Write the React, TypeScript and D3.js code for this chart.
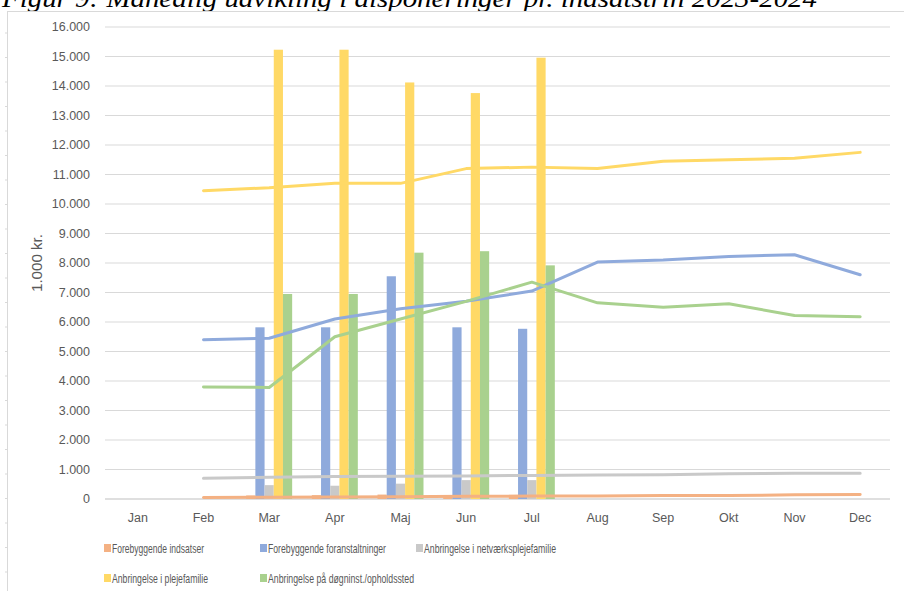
import React from "react";
import * as d3 from "d3";

const months = ["Jan", "Feb", "Mar", "Apr", "Maj", "Jun", "Jul", "Aug", "Sep", "Okt", "Nov", "Dec"];
const seriesNames = [
  "Forebyggende indsatser",
  "Forebyggende foranstaltninger",
  "Anbringelse i netværksplejefamilie",
  "Anbringelse i plejefamilie",
  "Anbringelse på døgninst./opholdssted",
];
const seriesColors = ["#F4B183", "#8FAADC", "#C9C9C9", "#FFD966", "#A9D18E"];

// Line series (Jan missing)
const lineIndsatser = [null, 50, 60, 70, 80, 90, 100, 100, 120, 120, 140, 150];
const lineForanstaltninger = [null, 5400, 5450, 6100, 6450, 6700, 7050, 8030, 8100, 8220, 8280, 7600];
const lineNetvaerk = [null, 700, 740, 760, 770, 780, 800, 810, 820, 860, 870, 870];
const linePlejefamilie = [null, 10450, 10550, 10700, 10700, 11200, 11250, 11200, 11450, 11500, 11550, 11750];
const lineDoegninst = [null, 3800, 3780, 5500, 6100, 6700, 7350, 6650, 6500, 6620, 6220, 6180];

// Bar series (Mar–Jul)
const barMonths = ["Mar", "Apr", "Maj", "Jun", "Jul"];
const barIndsatser = [120, 130, 150, 130, 140];
const barForanstaltninger = [5820, 5820, 7550, 5820, 5770];
const barNetvaerk = [470, 450, 520, 640, 640];
const barPlejefamilie = [15230, 15230, 14120, 13760, 14960];
const barDoegninst = [6950, 6950, 8350, 8400, 7920];

const yTicks = d3.range(0, 16001, 1000);

const lineSeries = [lineIndsatser, lineForanstaltninger, lineNetvaerk, linePlejefamilie, lineDoegninst];
const barSeries = [barIndsatser, barForanstaltninger, barNetvaerk, barPlejefamilie, barDoegninst];

const fmt = (v: number) => (v === 0 ? "0" : d3.format(",")(v).replace(/,/g, "."));

export default function App() {
  const W = 904, H = 591;
  const left = 105, right = 893, top = 27, bottom = 499;
  const x = d3.scaleBand<string>().domain(months).range([left, right]).padding(0);
  const y = d3.scaleLinear().domain([0, 16000]).range([bottom, top]);
  const bw = x.bandwidth();
  const x1 = d3.scaleBand<string>().domain(seriesNames).range([0, bw]).paddingInner(0).paddingOuter(1.07);
  const line = d3
    .line<number | null>()
    .defined((d) => d != null)
    .x((_, i) => (x(months[i]) as number) + bw / 2)
    .y((d) => y(d as number));
  const textColor = "#595959";
  const font = "'Liberation Sans', Arial, sans-serif";
  const narrow = "'Liberation Sans Narrow', 'Liberation Sans', Arial, sans-serif";

  const legendItems = [
    { i: 0, lx: 104, ly: 548, tl: 92 },
    { i: 1, lx: 260, ly: 548, tl: 118 },
    { i: 2, lx: 416, ly: 548, tl: 132 },
    { i: 3, lx: 104, ly: 578, tl: 96 },
    { i: 4, lx: 260, ly: 578, tl: 146 },
  ];

  return (
    <svg width={W} height={H} style={{ position: "absolute", left: 0, top: 0, background: "#fff" }}>
      <text
        x={2}
        y={7}
        fontFamily="'Liberation Serif', 'Times New Roman', serif"
        fontStyle="italic"
        fontSize={26}
        textLength={815}
        lengthAdjust="spacingAndGlyphs"
        fill="#000"
      >
        Figur 9: Månedlig udvikling i disponeringer pr. indsatstrin 2023-2024
      </text>
      {/* frame */}
      <line x1={7} x2={W} y1={11.5} y2={11.5} stroke="#d9d9d9" />
      <line x1={7.5} x2={7.5} y1={11} y2={H} stroke="#d9d9d9" />
      {d3.range(33, H, 24.5).map((t, k) => (
        <line key={k} x1={5} x2={7} y1={t} y2={t} stroke="#d9d9d9" />
      ))}
      {/* grid */}
      {yTicks.map((t) => (
        <g key={t}>
          <line x1={left} x2={right - 3} y1={y(t)} y2={y(t)} stroke={t === 0 ? "#bfbfbf" : "#d9d9d9"} strokeWidth={1} />
          <text x={90} y={y(t)} dy="0.35em" textAnchor="end" fontFamily={font} fontSize={12.5} fill={textColor}>
            {fmt(t)}
          </text>
        </g>
      ))}
      <text
        transform={`translate(42,263) rotate(-90)`}
        textAnchor="middle"
        fontFamily={font}
        fontSize={14}
        textLength={58}
        lengthAdjust="spacingAndGlyphs"
        fill={textColor}
      >
        1.000 kr.
      </text>
      {/* bars */}
      {barSeries.map((vals, si) =>
        vals.map((v, bi) => (
          <rect
            key={`${si}-${bi}`}
            x={(x(barMonths[bi]) as number) + (x1(seriesNames[si]) as number)}
            width={x1.bandwidth()}
            y={y(v)}
            height={y(0) - y(v)}
            fill={seriesColors[si]}
          />
        ))
      )}
      {/* lines */}
      {lineSeries.map((vals, si) => (
        <path
          key={si}
          d={line(vals) as string}
          fill="none"
          stroke={seriesColors[si]}
          strokeWidth={3}
          strokeLinejoin="round"
          strokeLinecap="round"
        />
      ))}
      {/* x labels */}
      {months.map((m) => (
        <text
          key={m}
          x={(x(m) as number) + bw / 2}
          y={518}
          dy="0.35em"
          textAnchor="middle"
          fontFamily={font}
          fontSize={12.5}
          fill={textColor}
        >
          {m}
        </text>
      ))}
      {/* legend */}
      {legendItems.map(({ i, lx, ly, tl }) => (
        <g key={i}>
          <rect x={lx} y={ly - 4} width={7} height={8} fill={seriesColors[i]} />
          <text
            x={lx + 8}
            y={ly}
            dy="0.35em"
            fontFamily={narrow}
            fontSize={13}
            textLength={tl}
            lengthAdjust="spacingAndGlyphs"
            fill={textColor}
          >
            {seriesNames[i]}
          </text>
        </g>
      ))}
    </svg>
  );
}
